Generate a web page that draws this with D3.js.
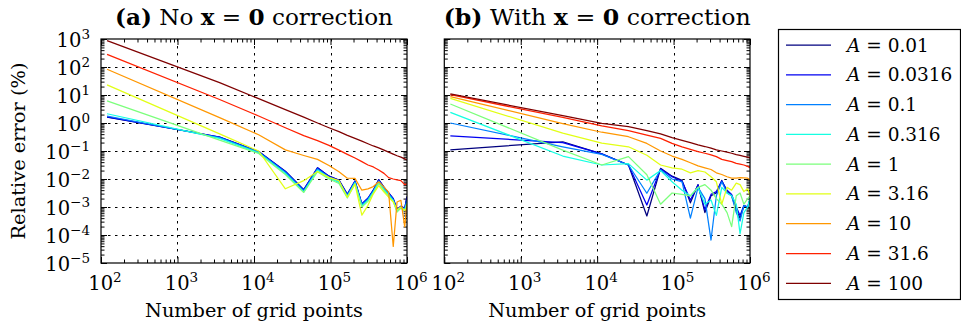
<!DOCTYPE html>
<html><head><meta charset="utf-8">
<script src="https://cdn.jsdelivr.net/npm/d3@7"></script>
<style>
body{margin:0;background:#fff}
svg{display:block}
</style>
</head><body>
<svg id="c" width="961" height="328" font-family="'DejaVu Serif', serif"></svg>
<script>
// ---------------- data ----------------
const gridPoints = [120, 3550, 11500, 25700, 44700, 67600, 95500, 129000, 166000, 209000, 257000,
  309000, 363000, 427000, 501000, 575000, 661000, 741000, 832000, 933000, 1000000];
const amplitudeLabels = ["0.01", "0.0316", "0.1", "0.316", "1", "3.16", "10", "31.6", "100"];
const seriesColors = ["#00007f", "#0000f1", "#0080ff", "#15ffe2", "#7bff7b", "#e2ff15", "#ff9700", "#ff2100", "#7f0000"];

// log10 of relative error (%) — panel (a) No x=0 correction
const noCorr_A0_01   = [0.21, -0.50, -1.02, -1.72, -2.38, -1.60, -1.90, -2.04, -2.55, -2.07, -2.90, -2.70, -2.40, -2.02, -2.30, -2.50, -2.70, -3.10, -2.98, -3.05, -2.62];
const noCorr_A0_0316 = [0.22, -0.50, -1.02, -1.73, -2.39, -1.60, -1.90, -2.05, -2.55, -2.07, -2.88, -2.68, -2.40, -2.03, -2.30, -2.50, -2.70, -3.08, -2.97, -3.05, -2.65];
const noCorr_A0_1    = [0.25, -0.52, -1.04, -1.76, -2.42, -1.64, -1.93, -2.08, -2.58, -2.10, -2.92, -2.72, -2.43, -2.07, -2.34, -2.53, -2.74, -3.12, -3.00, -3.08, -2.75];
const noCorr_A0_316  = [0.33, -0.55, -1.07, -1.80, -2.46, -1.68, -1.96, -2.12, -2.62, -2.14, -2.96, -2.76, -2.47, -2.11, -2.38, -2.57, -2.78, -3.15, -3.02, -3.10, -2.85];
const noCorr_A1      = [0.79, -0.61, -1.09, -1.84, -2.48, -1.74, -2.00, -2.16, -2.68, -2.18, -3.00, -2.80, -2.50, -2.16, -2.42, -2.62, -2.80, -3.18, -3.04, -3.12, -2.90];
const noCorr_A3_16   = [1.36, -0.39, -1.00, -2.35, -2.06, -1.73, -1.94, -2.06, -2.65, -2.18, -3.29, -2.94, -2.53, -2.24, -2.47, -2.65, -2.82, -3.10, -3.00, -3.12, -3.06];
const noCorr_A10     = [1.92, 0.19, -0.42, -0.96, -1.16, -1.30, -1.52, -1.74, -1.97, -1.98, -2.40, -2.35, -2.27, -2.10, -2.29, -2.47, -4.41, -2.82, -2.76, -3.70, -2.88];
const noCorr_A31_6   = [2.45, 0.84, 0.25, -0.17, -0.45, -0.63, -0.80, -0.97, -1.12, -1.25, -1.38, -1.50, -1.57, -1.68, -1.80, -1.95, -2.00, -2.03, -2.06, -2.20, -2.17];
const noCorr_A100    = [2.94, 1.44, 0.87, 0.48, 0.21, 0.00, -0.17, -0.31, -0.44, -0.55, -0.65, -0.74, -0.82, -0.89, -0.97, -1.04, -1.11, -1.17, -1.22, -1.28, -1.32];

// log10 of relative error (%) — panel (b) With x=0 correction
const withCorr_A0_01   = [-0.96, -0.67, -1.10, -1.50, -3.32, -1.62, -1.90, -2.05, -2.85, -2.20, -3.20, -2.60, -2.50, -2.05, -2.45, -2.60, -3.10, -3.40, -2.95, -3.00, -2.70];
const withCorr_A0_0316 = [-0.46, -0.70, -1.10, -1.50, -2.93, -1.64, -1.92, -2.08, -2.75, -2.22, -3.10, -2.55, -2.45, -2.07, -2.40, -2.55, -3.00, -3.30, -2.95, -3.00, -2.80];
const withCorr_A0_1    = [0.00, -0.85, -1.12, -1.50, -2.51, -1.67, -2.00, -2.10, -3.40, -2.30, -2.70, -4.18, -2.60, -2.10, -2.50, -2.60, -3.20, -3.50, -2.95, -3.00, -2.75];
const withCorr_A0_316  = [0.38, -1.18, -1.50, -1.45, -2.04, -1.70, -2.10, -2.40, -2.60, -2.30, -2.90, -2.75, -3.30, -2.30, -2.50, -2.60, -2.90, -3.95, -3.20, -3.00, -2.70];
const withCorr_A1      = [0.68, -0.97, -1.50, -1.20, -1.85, -2.90, -2.50, -2.55, -2.60, -2.30, -2.20, -2.40, -2.70, -2.90, -3.20, -3.70, -2.60, -2.50, -2.90, -2.70, -2.60];
const withCorr_A3_16   = [0.88, -0.36, -0.72, -0.85, -1.15, -1.50, -1.60, -1.65, -1.78, -1.70, -1.75, -1.92, -2.10, -2.90, -2.30, -2.40, -2.15, -2.20, -2.45, -2.35, -2.60];
const withCorr_A10     = [0.94, -0.02, -0.33, -0.49, -0.73, -1.00, -1.18, -1.30, -1.42, -1.53, -1.60, -1.66, -1.78, -1.84, -1.92, -1.97, -1.97, -1.95, -1.96, -1.97, -2.03];
const withCorr_A31_6   = [1.01, 0.20, -0.10, -0.27, -0.43, -0.55, -0.73, -0.85, -0.94, -1.02, -1.08, -1.14, -1.20, -1.30, -1.34, -1.38, -1.44, -1.47, -1.50, -1.55, -1.60];
const withCorr_A100    = [1.04, 0.26, -0.01, -0.13, -0.27, -0.39, -0.52, -0.62, -0.70, -0.78, -0.84, -0.90, -0.96, -1.00, -1.04, -1.08, -1.13, -1.16, -1.19, -1.22, -1.25];

const xTickValues = [1e2, 1e3, 1e4, 1e5, 1e6];
const xTickExps = ["2", "3", "4", "5", "6"];
const yTickValues = [1e-5, 1e-4, 1e-3, 1e-2, 1e-1, 1e0, 1e1, 1e2, 1e3];
const yTickExps = ["\u22125", "\u22124", "\u22123", "\u22122", "\u22121", "0", "1", "2", "3"];

const panelTitles = [
  [{t:"(a)", b:true}, {t:" No "}, {t:"x", b:true}, {t:" = "}, {t:"0", b:true}, {t:" correction"}],
  [{t:"(b)", b:true}, {t:" With "}, {t:"x", b:true}, {t:" = "}, {t:"0", b:true}, {t:" correction"}]
];
const xAxisTitle = "Number of grid points";
const yAxisTitle = "Relative error (%)";

const panelSeries = [
  [noCorr_A0_01, noCorr_A0_0316, noCorr_A0_1, noCorr_A0_316, noCorr_A1, noCorr_A3_16, noCorr_A10, noCorr_A31_6, noCorr_A100],
  [withCorr_A0_01, withCorr_A0_0316, withCorr_A0_1, withCorr_A0_316, withCorr_A1, withCorr_A3_16, withCorr_A10, withCorr_A31_6, withCorr_A100]
];

// ---------------- layout ----------------
const svg = d3.select("#c");
const plotTop = 39, plotBottom = 263;
const panels = [{x0: 101, x1: 407, title: 278}, {x0: 444.3, x1: 750, title: 307}];

const y = d3.scaleLog().domain([1e-5, 1e3]).range([plotBottom, plotTop]);

function minorTicks(lo, hi) {
  const out = [];
  for (let e = Math.floor(Math.log10(lo)); e < Math.ceil(Math.log10(hi)); e++) {
    for (let m = 2; m <= 9; m++) { const v = m * Math.pow(10, e); if (v > lo && v < hi) out.push(v); }
  }
  return out;
}

panels.forEach((p, pi) => {
  const x = d3.scaleLog().domain([1e2, 1e6]).range([p.x0, p.x1]);
  const g = svg.append("g");
  const clipId = "clip" + pi;
  svg.append("clipPath").attr("id", clipId).append("rect")
    .attr("x", p.x0).attr("y", plotTop).attr("width", p.x1 - p.x0).attr("height", plotBottom - plotTop);

  // grid
  const grid = g.append("g").attr("stroke", "#000").attr("stroke-width", 1).attr("stroke-dasharray", "2.5,4.5");
  xTickValues.slice(1, -1).forEach(v => grid.append("line")
    .attr("x1", Math.round(x(v)) + 0.5).attr("x2", Math.round(x(v)) + 0.5).attr("y1", plotTop).attr("y2", plotBottom));
  yTickValues.slice(1, -1).forEach(v => grid.append("line")
    .attr("y1", Math.round(y(v)) + 0.5).attr("y2", Math.round(y(v)) + 0.5).attr("x1", p.x0).attr("x2", p.x1));

  // ticks via d3 axes (inward)
  const xMinor = minorTicks(1e2, 1e6), yMinor = minorTicks(1e-5, 1e3);
  const mk = (axisFn, scale, vals, len, tr) => {
    const a = g.append("g").attr("transform", tr)
      .call(axisFn(scale).tickValues(vals).tickSizeInner(len).tickSizeOuter(0).tickFormat(""));
    a.select(".domain").remove();
    a.selectAll("line").attr("stroke", "#000").attr("stroke-width", 1);
  };
  mk(d3.axisBottom, x, xTickValues, -6, `translate(0,${plotBottom})`);
  mk(d3.axisBottom, x, xMinor, -3.5, `translate(0,${plotBottom})`);
  mk(d3.axisTop, x, xTickValues, -6, `translate(0,${plotTop})`);
  mk(d3.axisTop, x, xMinor, -3.5, `translate(0,${plotTop})`);
  mk(d3.axisLeft, y, yTickValues, -6, `translate(${p.x0},0)`);
  mk(d3.axisLeft, y, yMinor, -3.5, `translate(${p.x0},0)`);
  mk(d3.axisRight, y, yTickValues, -6, `translate(${p.x1},0)`);
  mk(d3.axisRight, y, yMinor, -3.5, `translate(${p.x1},0)`);

  // series
  const line = d3.line().x((d, i) => x(gridPoints[i])).y(d => y(Math.pow(10, d)));
  const lg = g.append("g").attr("clip-path", `url(#${clipId})`);
  panelSeries[pi].forEach((s, si) => {
    lg.append("path").attr("d", line(s)).attr("fill", "none")
      .attr("stroke", seriesColors[si]).attr("stroke-width", 1.25).attr("stroke-linejoin", "round");
  });

  // frame
  g.append("rect").attr("x", p.x0).attr("y", plotTop).attr("width", p.x1 - p.x0).attr("height", plotBottom - plotTop)
    .attr("fill", "none").attr("stroke", "#000").attr("stroke-width", 1.2);

  // x tick labels
  xTickValues.forEach((v, i) => {
    const t = g.append("text").attr("x", x(v) + 4).attr("y", 290).attr("text-anchor", "middle").attr("font-size", 19.5);
    t.append("tspan").text("10");
    t.append("tspan").attr("dy", -8).attr("font-size", 13.5).text(xTickExps[i]);
  });
  // y tick labels (panel a only)
  if (pi === 0) {
    yTickValues.forEach((v, i) => {
      const t = g.append("text").attr("x", 90).attr("y", y(v) + 7.5).attr("text-anchor", "end").attr("font-size", 19.5);
      t.append("tspan").text("10");
      t.append("tspan").attr("dy", -8).attr("font-size", 13.5).text(yTickExps[i]);
    });
    g.append("text").attr("transform", `translate(25,${(plotTop + plotBottom) / 2}) rotate(-90)`)
      .attr("text-anchor", "middle").attr("font-size", 19)
      .attr("textLength", 177).attr("lengthAdjust", "spacingAndGlyphs").text(yAxisTitle);
  }
  // x axis title
  g.append("text").attr("x", (p.x0 + p.x1) / 2).attr("y", 317).attr("text-anchor", "middle")
    .attr("font-size", 19).attr("textLength", 218).attr("lengthAdjust", "spacingAndGlyphs").text(xAxisTitle);
  // title
  const tt = g.append("text").attr("x", (p.x0 + p.x1) / 2).attr("y", 25).attr("text-anchor", "middle")
    .attr("font-size", 22).attr("textLength", p.title).attr("lengthAdjust", "spacingAndGlyphs");
  panelTitles[pi].forEach(part => {
    tt.append("tspan").attr("font-weight", part.b ? "bold" : "normal").text(part.t);
  });
});

// ---------------- legend ----------------
const leg = svg.append("g");
leg.append("rect").attr("x", 778.5).attr("y", 29.5).attr("width", 182).attr("height", 270)
  .attr("fill", "#fff").attr("stroke", "#000").attr("stroke-width", 1.2);
const ly = d3.scaleLinear().domain([0, amplitudeLabels.length - 1]).range([45, 283.3]);
amplitudeLabels.forEach((lab, i) => {
  leg.append("line").attr("x1", 786).attr("x2", 831).attr("y1", ly(i)).attr("y2", ly(i))
    .attr("stroke", seriesColors[i]).attr("stroke-width", 1.25);
  const t = leg.append("text").attr("x", 847).attr("y", ly(i) + 6.5).attr("font-size", 18.5);
  t.append("tspan").attr("font-style", "italic").text("A");
  t.append("tspan").text(" = " + lab);
});
</script>
</body></html>
